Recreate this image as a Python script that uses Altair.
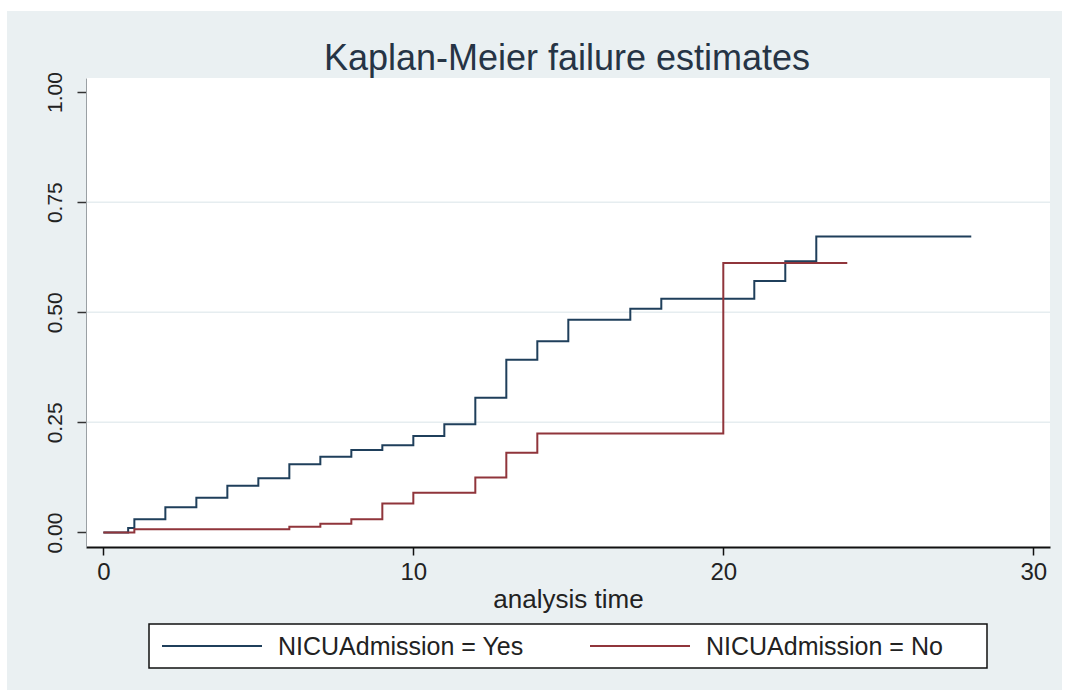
import altair as alt
import pandas as pd

# ---- data ----
yes_time = [0, 0.8, 1, 2, 3, 4, 5, 6, 7, 8, 9, 10, 11, 12, 13, 14, 15, 17, 18, 21, 22, 23, 28]
yes_fail = [0, 0.010, 0.030, 0.057, 0.079, 0.106, 0.123, 0.155, 0.172, 0.187, 0.198, 0.219,
            0.246, 0.306, 0.392, 0.434, 0.483, 0.508, 0.531, 0.571, 0.616, 0.672, 0.672]
no_time = [0, 1, 6, 7, 8, 9, 10, 12, 13, 14, 20, 24]
no_fail = [0, 0.0075, 0.013, 0.020, 0.030, 0.066, 0.090, 0.125, 0.181, 0.225, 0.612, 0.612]
groups = ["NICUAdmission = Yes", "NICUAdmission = No"]
group_colors = ["#1f3f5b", "#90353b"]
x_ticks = [0, 10, 20, 30]
y_ticks = [0, 0.25, 0.5, 0.75, 1.0]
grid_vals = [0.25, 0.5, 0.75]
title_text = "Kaplan-Meier failure estimates"
x_title = "analysis time"

rows = [{"t": t, "f": f, "g": groups[0]} for t, f in zip(yes_time, yes_fail)]
rows += [{"t": t, "f": f, "g": groups[1]} for t, f in zip(no_time, no_fail)]
df = pd.DataFrame(rows)

W, H = 964, 469
FONT = "Liberation Sans"
TXT = "#222222"

xscale = alt.Scale(domain=[-0.56, 30.54], nice=False, zero=False)
yscale = alt.Scale(domain=[-0.033, 1.032], nice=False, zero=False)

y_axis = alt.Axis(values=y_ticks, format=".2f", title=None, grid=False, zindex=1,
                  domainColor="#9aa0a4", domainWidth=1,
                  tickColor="#333333", tickSize=9, tickWidth=1.5,
                  labelAngle=270, labelAlign="center", labelBaseline="bottom",
                  labelFont=FONT, labelFontSize=21, labelColor=TXT,
                  labelPadding=12, labelFlush=False)
x_axis = alt.Axis(values=x_ticks, title=x_title, grid=False, zindex=1,
                  domainColor="#111111", domainWidth=2,
                  tickColor="#111111", tickSize=8, tickWidth=1.5,
                  labelFont=FONT, labelFontSize=24, labelColor=TXT,
                  labelPadding=5, labelFlush=False,
                  titleFont=FONT, titleFontSize=26, titleFontWeight="normal",
                  titleColor=TXT, titlePadding=2)

one = pd.DataFrame({"a": [0]})

bg = alt.Chart(one).mark_rect(color="#eaf0f2", clip=False).encode(
    x=alt.value(-79), x2=alt.value(976), y=alt.value(-67), y2=alt.value(612)
)
plotbg = alt.Chart(one).mark_rect(color="#ffffff", clip=False).encode(
    x=alt.value(0), x2=alt.value(W), y=alt.value(0), y2=alt.value(H)
)
title = alt.Chart(one).mark_text(
    text=title_text, font=FONT, fontSize=36, color="#263445",
    align="center", baseline="alphabetic", clip=False
).encode(x=alt.value(481), y=alt.value(-8))

grid = alt.Chart(pd.DataFrame({"v": grid_vals})).mark_rule(
    color="#e6edf0", strokeWidth=1.5
).encode(y=alt.Y("v:Q", scale=yscale, axis=y_axis))

lines = alt.Chart(df).mark_line(interpolate="step-after", strokeWidth=2).encode(
    x=alt.X("t:Q", scale=xscale, axis=x_axis),
    y=alt.Y("f:Q", scale=yscale, axis=y_axis),
    color=alt.Color("g:N", scale=alt.Scale(domain=groups, range=group_colors), legend=None),
    order="t:Q",
)

# legend box drawn by hand (Stata style: long line samples)
leg_box = alt.Chart(one).mark_rect(fill="#ffffff", stroke="#111111", strokeWidth=1.5,
                                   clip=False).encode(
    x=alt.value(63), x2=alt.value(901), y=alt.value(546), y2=alt.value(590)
)
leg_layers = [leg_box]
sym_x = [76, 504]
for i, (g, c) in enumerate(zip(groups, group_colors)):
    leg_layers.append(
        alt.Chart(one).mark_rule(color=c, strokeWidth=2, clip=False).encode(
            x=alt.value(sym_x[i]), x2=alt.value(sym_x[i] + 100), y=alt.value(568)
        )
    )
    leg_layers.append(
        alt.Chart(one).mark_text(text=g, font=FONT, fontSize=25, color=TXT,
                                 align="left", baseline="middle", clip=False).encode(
            x=alt.value(sym_x[i] + 116), y=alt.value(569)
        )
    )

chart = alt.layer(bg, plotbg, grid, lines, title, *leg_layers).properties(
    width=W, height=H,
    padding={"left": 86, "top": 78, "right": 20, "bottom": 147},
    autosize=alt.AutoSizeParams(type="none"),
).configure_view(stroke=None).configure(background="#ffffff")

chart.save("out.html", embed_options={"renderer": "svg", "actions": False})
